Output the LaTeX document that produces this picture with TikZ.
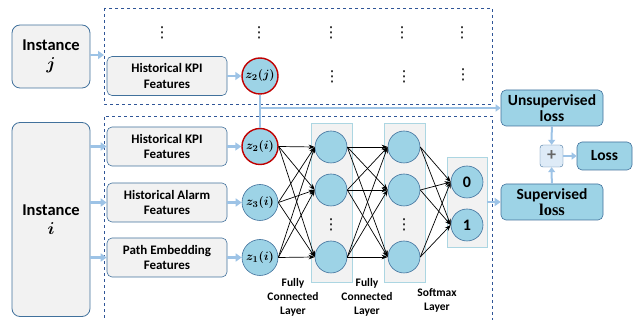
\documentclass[tikz,border=0pt]{standalone}
\usepackage{fontspec}
\setmainfont{Carlito}
\newfontfamily\lossserif{Liberation Serif}
\newfontfamily\dotfont{DejaVu Sans}
\usepackage{amsmath,amssymb}
\usetikzlibrary{arrows.meta,positioning,calc}
\definecolor{boxline}{RGB}{65,113,156}
\definecolor{boxgray}{RGB}{242,242,242}
\definecolor{nfill}{RGB}{157,211,230}
\definecolor{ringred}{RGB}{192,0,0}
\definecolor{flowblue}{RGB}{157,195,230}
\definecolor{dashblue}{RGB}{47,85,151}
\definecolor{panelline}{RGB}{172,214,226}
\definecolor{plusfill}{RGB}{222,235,247}

\begin{document}
\begin{tikzpicture}[x=1pt,y=-1pt, >=Stealth,
  every node/.style={font=\bfseries\fontsize{13}{15.5}\selectfont,align=center},
  inst/.style={draw=boxline,fill=boxgray,rounded corners=8pt,minimum width=78pt,line width=0.8pt,font=\bfseries\fontsize{16.5}{19}\selectfont},
  feat/.style={draw=boxline,fill=boxgray,rounded corners=5pt,minimum width=120pt,minimum height=39pt,inner sep=2pt,line width=0.6pt},
  zin/.style={circle,draw=boxline,fill=nfill,minimum size=36pt,inner sep=0pt,line width=0.6pt,font=\fontsize{12.5}{13}\selectfont\boldmath},
  zhot/.style={zin,draw=ringred,line width=1.4pt},
  neuron/.style={circle,draw=boxline,fill=nfill,minimum size=32pt,inner sep=0pt,line width=0.6pt,font=\bfseries\fontsize{16}{16}\selectfont},
  panel/.style={draw=panelline,fill=boxgray,minimum width=41pt,line width=0.8pt},
  lossbox/.style={draw=boxline,fill=nfill,rounded corners=5pt,minimum width=102pt,minimum height=36pt,inner sep=1pt,line width=0.6pt,font=\bfseries\fontsize{15.5}{16.5}\selectfont},
  dots/.style={inner sep=0pt,font=\dotfont\fontsize{15}{15}\selectfont},
  flow/.style={-{Triangle[length=6pt,width=8pt]},draw=flowblue,line width=2.6pt},
  thinflow/.style={-{Triangle[length=5pt,width=7pt]},draw=flowblue,line width=2pt},
  link/.style={->,black,line width=0.7pt},
  region/.style={draw=dashblue,dashed,line width=0.6pt},
  lbl/.style={font=\bfseries\fontsize{11.5}{14}\selectfont}]
\useasboundingbox (0,0) rectangle (633,320);
% dashed regions for instance j and instance i
\draw[region] (104,8) rectangle (492,104);
\draw[region] (104,324) |- (492,116) -- (492,324);
% instances
\node[inst,minimum height=63pt] (instj) at (51,56.5) {Instance\\$\boldsymbol{j}$};
\node[inst,minimum height=194pt] (insti) at (51,219.5) {Instance\\$\boldsymbol{i}$};
\coordinate (topin) at (104,55);
% feature boxes
\node[feat] (kpij) at (167,76) {Historical KPI\\Features};
\node[feat] (kpii) at (167,146.5) {Historical KPI\\Features};
\node[feat] (alarm) at (167,202.5) {Historical Alarm\\Features};
\node[feat] (path) at (167,257.5) {Path Embedding\\Features};
\node[zhot] (z2j) at (260,76) {$z_2(j)$};
\node[zhot] (z2i) at (260,146.5) {$z_2(i)$};
\node[zin] (z3i) at (260,202.5) {$z_3(i)$};
\node[zin] (z1i) at (260,257.5) {$z_1(i)$};
% dots of the other instances
\node[dots] (d1) at (162,33) {⋮}; \node[dots] (d2) at (259,33) {⋮}; \node[dots] (d3) at (331,33) {⋮};
\node[dots] (d4) at (402,33) {⋮}; \node[dots] (d5) at (462,33) {⋮};
\node[dots] (d6) at (332,77) {⋮}; \node[dots] (d7) at (404,77) {⋮}; \node[dots] (d8) at (463,75) {⋮};
% layers
\node[panel,minimum height=159pt] (fc1) at (331.5,202.5) {};
\node[panel,minimum height=159pt] (fc2) at (404.5,202.5) {};
\node[panel,minimum width=40pt,minimum height=90pt] (smx) at (467,202.5) {};
\node[neuron] (a1) at (331,147) {}; \node[neuron] (a2) at (331,190) {}; \node[neuron] (a3) at (331,257) {};
\node[neuron] (b1) at (404,147) {}; \node[neuron] (b2) at (404,190) {}; \node[neuron] (b3) at (404,257) {};
\node[dots] (da) at (331,225) {⋮}; \node[dots] (db) at (404,225) {⋮};
\node[neuron] (s0) at (467,182) {0}; \node[neuron] (s1) at (467,225) {1};
\node[lbl] (lab1) at (293,297) {Fully\\Connected\\Layer};
\node[lbl] (lab2) at (367,297) {Fully\\Connected\\Layer};
\node[lbl] (lab3) at (437,300) {Softmax\\Layer};
% losses
\node[lossbox] (unsup) at (552,108) {Unsupervised\\loss};
\node[lossbox] (sup) at (552,202) {Supervised\\{\lossserif\fontsize{16.5}{16.5}\selectfont loss}};
\node[draw=boxline,fill=plusfill,rounded corners=3pt,minimum width=23pt,minimum height=22pt,inner sep=0pt,text=black!60,font=\bfseries\fontsize{18}{18}\selectfont] (plus) at (551.5,156) {+};
\node[lossbox,minimum width=55pt,minimum height=28pt] (loss) at (604.5,156) {Loss};
% connectors
\draw[flow] (instj.east |- topin) -- (topin);
\draw[flow] (insti.east |- kpii) -- (kpii); \draw[flow] (insti.east |- alarm) -- (alarm); \draw[flow] (insti.east |- path) -- (path);
\draw[flow] (kpij) -- (z2j); \draw[flow] (kpii) -- (z2i); \draw[flow] (alarm) -- (z3i); \draw[flow] (path) -- (z1i);
\draw[thinflow] (z2j.south) |- (unsup.west);
\draw[draw=flowblue,line width=2pt] (z2i.north) -- (z2i.north |- unsup.west);
\foreach \s in {z2i,z3i,z1i} \foreach \t in {a1,a2,a3} \draw[link] (\s.east) -- (\t.west);
\foreach \s in {a1,a2,a3} \foreach \t in {b1,b2,b3} \draw[link] (\s.east) -- (\t.west);
\foreach \s in {b1,b2,b3} \foreach \t in {s0,s1} \draw[link] (\s.east) -- (\t.west);
\draw[flow] (smx.east |- sup) -- (sup);
\draw[thinflow] (unsup) -- (plus); \draw[thinflow] (sup) -- (plus); \draw[thinflow] (plus) -- (loss);
\end{tikzpicture}
\end{document}
